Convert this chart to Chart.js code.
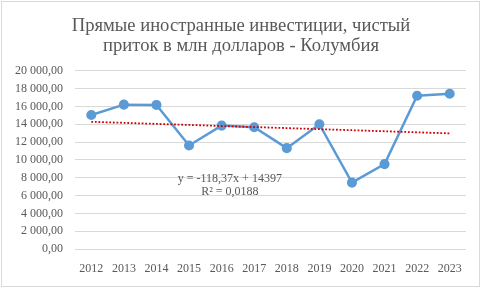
<!DOCTYPE html>
<html>
<head>
<meta charset="utf-8">
<script src="https://cdn.jsdelivr.net/npm/chart.js@4"></script>
<style>
  html, body { margin: 0; padding: 0; background: #fff; }
  #wrap { position: relative; width: 482px; height: 289px; }
</style>
</head>
<body>
<div id="wrap"><canvas id="myChart" width="482" height="289"></canvas></div>
<script>
var years = ["2012", "2013", "2014", "2015", "2016", "2017", "2018", "2019", "2020", "2021", "2022", "2023"];
var fdiValues = [15040, 16200, 16170, 11620, 13850, 13670, 11320, 14000, 7450, 9530, 17200, 17430];
// linear trendline as printed on the chart
var trendSlope = -118.37;
var trendIntercept = 14397;
var trendLabel = ["y = -118,37x + 14397", "R² = 0,0188"];
var titleLines = ["Прямые иностранные инвестиции, чистый", "приток в млн долларов - Колумбия"];

var trendValues = years.map(function (y, i) { return trendSlope * (i + 1) + trendIntercept; });

const serif = '"Liberation Serif", "Times New Roman", serif';

const fmt = (v) => {
    var s = Math.abs(v).toFixed(2).split('.');
    var intPart = s[0].replace(/\B(?=(\d{3})+(?!\d))/g, ' ');
    return (v < 0 ? '-' : '') + intPart + ',' + s[1];
};

const frameAndLabel = {
    id: 'frameAndLabel',
    afterDraw(chart) {
        var ctx = chart.ctx;
        var a = chart.chartArea;
        ctx.save();
        ctx.strokeStyle = '#D9D9D9';
        ctx.lineWidth = 1;
        ctx.strokeRect(1.5, 1.5, 478, 285);
        ctx.fillStyle = '#595959';
        ctx.font = '12px ' + serif;
        ctx.textAlign = 'center';
        ctx.textBaseline = 'middle';
        var cx = a.left + (a.right - a.left) * 0.396;
        ctx.fillText(trendLabel[0], cx, chart.scales.y.getPixelForValue(7930));
        ctx.fillText(trendLabel[1], cx, chart.scales.y.getPixelForValue(6370));
        ctx.restore();
    }
};

new Chart("myChart", {
    type: "line",
    data: {
        labels: years,
        datasets: [{
            data: fdiValues,
            borderColor: "#5B9BD5",
            backgroundColor: "#5B9BD5",
            borderWidth: 2.5,
            pointRadius: 3.8,
            pointHoverRadius: 3.8,
            tension: 0,
            order: 1
        }, {
            data: trendValues,
            borderColor: "#D00000",
            borderWidth: 1.8,
            borderDash: [1.8, 1.8],
            pointRadius: 0,
            tension: 0,
            order: 0
        }]
    },
    options: {
        responsive: false,
        animation: false,
        layout: { padding: 0 },
        plugins: {
            legend: { display: false },
            tooltip: { enabled: false },
            title: {
                display: true,
                text: titleLines,
                color: '#595959',
                font: { family: serif, size: 18.6, weight: 'normal', lineHeight: 1.07 },
                padding: { top: 16, bottom: 15 }
            }
        },
        scales: {
            x: {
                offset: true,
                grid: { display: false, drawTicks: false },
                border: { display: false },
                ticks: {
                    color: '#595959',
                    padding: 13,
                    maxRotation: 0,
                    autoSkip: false,
                    font: { family: serif, size: 12 }
                },
                afterFit: (s) => { s.height = 40; }
            },
            y: {
                min: 0,
                max: 20000,
                grid: { color: '#D9D9D9', lineWidth: 1, drawTicks: false },
                border: { display: false },
                ticks: {
                    stepSize: 2000,
                    color: '#595959',
                    padding: 12,
                    callback: (v) => fmt(v),
                    font: { family: serif, size: 12 }
                },
                afterFit: (s) => { s.width = 75; }
            },
            yRight: {
                position: 'right',
                grid: { display: false, drawTicks: false },
                border: { display: false },
                ticks: { display: false },
                afterFit: (s) => { s.width = 16; }
            }
        }
    },
    plugins: [frameAndLabel]
});
</script>
</body>
</html>
